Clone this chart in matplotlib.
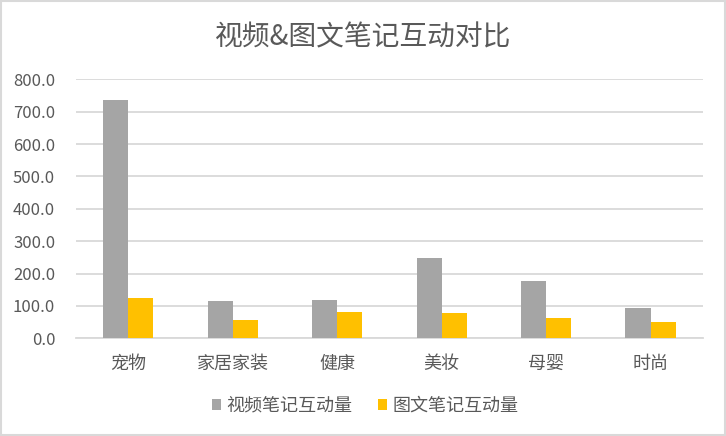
import numpy as np
import matplotlib
matplotlib.use('Agg')
import matplotlib.pyplot as plt
from matplotlib.patches import Rectangle

plt.rcParams['font.family'] = ['Noto Sans CJK SC', 'DejaVu Sans']

categories = ['宠物', '家居家装', '健康', '美妆', '母婴', '时尚']
video = [736, 115, 118, 248, 177, 93]
image = [125, 57, 81, 78, 63, 50]
series_names = ['视频笔记互动量', '图文笔记互动量']
yticks = [0, 100, 200, 300, 400, 500, 600, 700, 800]

txt = '#595959'
fig = plt.figure(figsize=(7.26, 4.36), dpi=100)
ax = fig.add_axes([0.1047, 0.224, 0.8633, 0.594])

x = np.arange(len(categories))
w = 0.24
ax.bar(x - w/2, video, w, color='#A5A5A5', label=series_names[0], zorder=3)
ax.bar(x + w/2, image, w, color='#FFC000', label=series_names[1], zorder=3)

ax.set_xlim(-0.5, len(categories) - 0.5)
ax.set_ylim(0, 800)
ax.set_yticks(yticks)
ax.set_yticklabels(['%.1f' % v for v in yticks], fontsize=12, color=txt)
ax.set_xticks(x)
ax.set_xticklabels(categories, fontsize=13, color=txt)
ax.tick_params(axis='x', length=0, pad=12)
ax.tick_params(axis='y', length=0, pad=15)
ax.grid(axis='y', color='#D9D9D9', linewidth=1.3, zorder=0)
for s in ['top', 'right', 'left']:
    ax.spines[s].set_visible(False)
ax.spines['bottom'].set_color('#D9D9D9')
ax.spines['bottom'].set_linewidth(1.3)

fig.text(0.5, 0.913, '视频&图文笔记互动对比', ha='center', va='center',
         fontsize=20, color=txt)

fig.legend(loc='center', bbox_to_anchor=(0.503, 0.069), ncol=2, frameon=False,
           fontsize=13, labelcolor=txt, handlelength=0.5, handleheight=0.5,
           columnspacing=1.4, handletextpad=0.3)

fig.patches.append(Rectangle((0.002, 0.003), 0.996, 0.994, transform=fig.transFigure,
                             fill=False, edgecolor='#D9D9D9', linewidth=1.5))

fig.savefig('out.png', dpi=100)
